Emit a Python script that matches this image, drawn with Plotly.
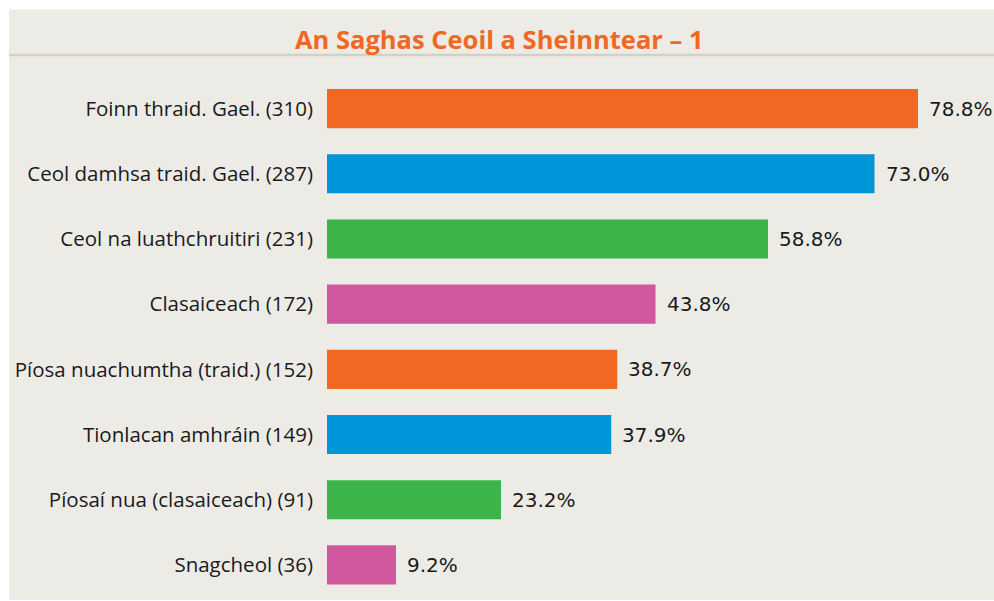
import plotly.graph_objects as go

categories = [
    "Foinn thraid. Gael. (310)",
    "Ceol damhsa traid. Gael. (287)",
    "Ceol na luathchruitiri (231)",
    "Clasaiceach (172)",
    "Píosa nuachumtha (traid.) (152)",
    "Tionlacan amhráin (149)",
    "Píosaí nua (clasaiceach) (91)",
    "Snagcheol (36)",
]
percentages = [78.8, 73.0, 58.8, 43.8, 38.7, 37.9, 23.2, 9.2]
bar_colors = ["#F26722", "#0095D9", "#3BB54A", "#D0569E",
              "#F26722", "#0095D9", "#3BB54A", "#D0569E"]
title_text = "An Saghas Ceoil a Sheinntear – 1"

W, H = 994, 601
L, R, T, B = 327, 7, 76.4, 0
PW, PH = W - L - R, H - T - B
STEP = 65.14  # pixels per category
y_bottom = -0.5 + PH / STEP


def px(x):
    return (x - L) / PW


def py(y):
    return (H - B - y) / PH


fig = go.Figure()
fig.add_trace(go.Bar(
    x=percentages, y=categories, orientation="h",
    marker=dict(color=bar_colors, line=dict(width=0)),
    hoverinfo="skip",
))
for c, v in zip(categories, percentages):
    fig.add_annotation(x=v, y=c, text=f"{v:.1f}%", showarrow=False,
                       xanchor="left", yanchor="middle", xshift=9,
                       font=dict(family="DejaVu Sans", size=20, color="#1a1a1a"))

# panel background and title line
fig.add_shape(type="rect", xref="paper", yref="paper",
              x0=px(9), x1=px(W + 2), y0=py(600), y1=py(10),
              fillcolor="#EDEBE6", line=dict(width=0), layer="below")
fig.add_shape(type="line", xref="paper", yref="paper",
              x0=px(9), x1=px(W + 2), y0=py(55.5), y1=py(55.5),
              line=dict(color="#D6D0C4", width=2.5), layer="below")

fig.add_annotation(text=f"<b>{title_text}</b>", xref="paper", yref="paper",
                   x=px(499), y=py(39),
                   xanchor="center", yanchor="middle", showarrow=False,
                   font=dict(family="Open Sans", size=25.5, color="#F26722"))

fig.update_layout(
    width=W, height=H,
    margin=dict(l=L, r=R, t=T, b=B, pad=0),
    paper_bgcolor="white", plot_bgcolor="rgba(0,0,0,0)",
    bargap=0.4, showlegend=False,
    xaxis=dict(range=[0, 88], visible=False, fixedrange=True),
    yaxis=dict(range=[y_bottom, -0.5], showgrid=False, zeroline=False,
               showline=False, ticks="", ticklabelstandoff=13,
               fixedrange=True,
               tickfont=dict(family="Open Sans", size=20.5, color="#1a1a1a")),
)
fig.write_html("out.html",
               config={"displayModeBar": False, "staticPlot": True},
               post_script="document.body.style.margin='0';"
                           "document.body.style.overflow='hidden';")
